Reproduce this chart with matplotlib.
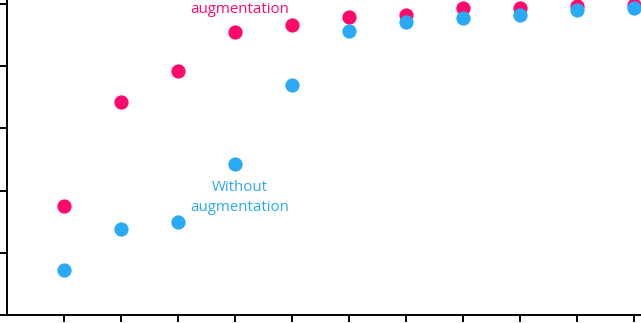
import matplotlib.pyplot as plt

# 数据
epochs = [1, 2, 3, 4, 5, 6, 7, 8, 9, 10, 11]
with_aug = [35.0, 68.5, 78.5, 91.1, 93.2, 95.9, 96.5, 98.6, 98.7, 99.5, 99.7]
without_aug = [14.5, 27.5, 29.9, 48.4, 73.9, 91.3, 94.2, 95.5, 96.6, 98.2, 98.7]
y_ticks = [0, 20, 40, 60, 80, 100]

COLOR_PINK = '#FF0A6C'
COLOR_BLUE = '#2AA9F7'

plt.rcParams['font.family'] = ['Open Sans', 'DejaVu Sans']

fig = plt.figure(figsize=(6.41, 3.23), dpi=100)
# 坐标轴故意超出画布，只保留左下部分
ax = fig.add_axes([7 / 641, 8 / 323, 655.5 / 641, 317.2 / 323])

ax.scatter(epochs, with_aug, s=105, color=COLOR_PINK, linewidths=0, zorder=3)
ax.scatter(epochs, without_aug, s=105, color=COLOR_BLUE, linewidths=0, zorder=4)

# 上方标签在原图中只露出第二行
ax.text(4.08, 97.0, 'augmentation', color=COLOR_PINK, fontsize=10.8,
        ha='center', va='baseline')
ax.text(4.08, 37.7, 'Without\naugmentation', color=COLOR_BLUE, fontsize=10.8,
        ha='center', va='center', linespacing=1.42)

ax.set_xlim(0, 11.5)
ax.set_ylim(0, 102)
ax.set_xticks(epochs)
ax.set_yticks(y_ticks)
ax.set_xticklabels([])
ax.set_yticklabels([])
ax.tick_params(length=5, width=1.4, color='black')
for side in ('top', 'right'):
    ax.spines[side].set_visible(False)
for side in ('left', 'bottom'):
    ax.spines[side].set_linewidth(1.4)

fig.savefig('out.png', dpi=100)
plt.close(fig)
